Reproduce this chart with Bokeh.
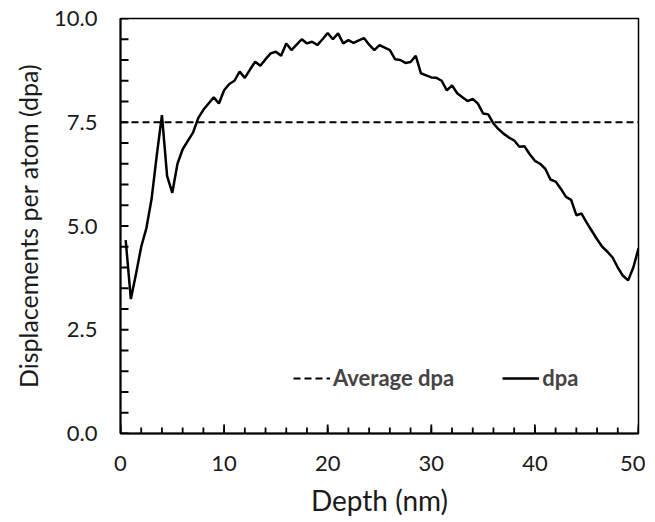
import numpy as np
from bokeh.plotting import figure
from bokeh.models import Legend, LegendItem, SingleIntervalTicker, Range1d, CustomJSTickFormatter
from bokeh.embed import file_html
from bokeh.resources import INLINE

depth = [0.5, 1.0, 1.5, 2.0, 2.5, 3.0, 3.5, 4.0, 4.5, 5.0, 5.5, 6.0, 6.5, 7.0, 7.5, 8.0, 8.5, 9.0, 9.5, 10.0,
         10.5, 11.0, 11.5, 12.0, 12.5, 13.0, 13.5, 14.0, 14.5, 15.0, 15.5, 16.0, 16.5, 17.0, 17.5, 18.0, 18.5, 19.0, 19.5, 20.0,
         20.5, 21.0, 21.5, 22.0, 22.5, 23.0, 23.5, 24.0, 24.5, 25.0, 25.5, 26.0, 26.5, 27.0, 27.5, 28.0, 28.5, 29.0, 29.5, 30.0,
         30.5, 31.0, 31.5, 32.0, 32.5, 33.0, 33.5, 34.0, 34.5, 35.0, 35.5, 36.0, 36.5, 37.0, 37.5, 38.0, 38.5, 39.0, 39.5, 40.0,
         40.5, 41.0, 41.5, 42.0, 42.5, 43.0, 43.5, 44.0, 44.5, 45.0, 45.5, 46.0, 46.5, 47.0, 47.5, 48.0, 48.5, 49.0, 49.5, 50.0]
dpa = [4.66, 3.24, 3.85, 4.5, 4.95, 5.65, 6.7, 7.67, 6.2, 5.8, 6.5, 6.85, 7.05, 7.25, 7.6, 7.8, 7.95, 8.1, 7.95, 8.27,
       8.42, 8.5, 8.72, 8.57, 8.77, 8.96, 8.86, 9.02, 9.16, 9.2, 9.1, 9.4, 9.24, 9.37, 9.5, 9.4, 9.44, 9.36, 9.5, 9.65,
       9.5, 9.64, 9.4, 9.48, 9.41, 9.47, 9.53, 9.37, 9.24, 9.36, 9.3, 9.24, 9.02, 9.0, 8.93, 8.95, 9.1, 8.68, 8.63, 8.58,
       8.57, 8.5, 8.27, 8.39, 8.2, 8.1, 8.01, 8.06, 7.95, 7.71, 7.69, 7.47, 7.33, 7.22, 7.13, 7.06, 6.91, 6.92, 6.73, 6.57,
       6.5, 6.38, 6.12, 6.07, 5.9, 5.7, 5.63, 5.26, 5.3, 5.08, 4.88, 4.68, 4.5, 4.38, 4.24, 4.0, 3.8, 3.69, 4.0, 4.46]
avg_x = [0, 50]
avg_y = [7.5, 7.5]

x_min, x_max, x_major, x_minor = 0, 50, 10, 2
y_min, y_max, y_major, y_minor = 0, 10, 2.5, 0.5

FONT = "Lato"
W, H = 645, 520
BL, BR, BT, BB = 120, 7, 18, 87
frame_w = W - BL - BR
frame_h = H - BT - BB

p = figure(width=W, height=H, output_backend="svg", toolbar_location=None,
           x_range=Range1d(x_min, x_max), y_range=Range1d(y_min, y_max),
           min_border_left=BL, min_border_right=BR, min_border_top=BT, min_border_bottom=BB)
p.xgrid.visible = False
p.ygrid.visible = False
p.outline_line_color = "black"
p.outline_line_width = 1.5
p.background_fill_color = "white"
p.border_fill_color = "white"

# inward tick marks (lengths given in pixels, converted to data units)
ux = (x_max - x_min) / frame_w
uy = (y_max - y_min) / frame_h
xt_minor = np.arange(x_min, x_max + 1e-9, x_minor)
xt_major = np.arange(x_min, x_max + 1e-9, x_major)
yt_minor = np.arange(y_min, y_max + 1e-9, y_minor)
p.segment(x0=xt_minor, y0=np.full(len(xt_minor), y_min), x1=xt_minor, y1=np.full(len(xt_minor), y_min + 6 * uy),
          line_color="black", line_width=1.8)
p.segment(x0=xt_major, y0=np.full(len(xt_major), y_min), x1=xt_major, y1=np.full(len(xt_major), y_min + 9 * uy),
          line_color="black", line_width=1.8)
p.segment(x0=np.full(len(yt_minor), x_min), y0=yt_minor, x1=np.full(len(yt_minor), x_min + 8 * ux), y1=yt_minor,
          line_color="black", line_width=1.8)

r_avg = p.line(avg_x, avg_y, line_color="black", line_width=2, line_dash="7 4")
r_dpa = p.line(depth, dpa, line_color="black", line_width=2.5)

p.xaxis.ticker = SingleIntervalTicker(interval=x_major, num_minor_ticks=5)
p.yaxis.ticker = SingleIntervalTicker(interval=y_major, num_minor_ticks=5)
p.yaxis.formatter = CustomJSTickFormatter(code="return tick.toFixed(1);")

for ax in (p.xaxis[0], p.yaxis[0]):
    ax.axis_line_width = 2
    ax.axis_line_color = "black"
    ax.major_tick_in = 0
    ax.major_tick_out = 0
    ax.minor_tick_in = 0
    ax.minor_tick_out = 0
    ax.major_tick_line_color = None
    ax.minor_tick_line_color = None
    ax.major_label_text_font = FONT
    ax.major_label_text_font_size = "22px"
    ax.major_label_text_color = "#1a1a1a"
    ax.axis_label_text_font = FONT
    ax.axis_label_text_font_style = "normal"
    ax.axis_label_text_color = "#1a1a1a"

p.xaxis.axis_label_text_font_size = "28px"
p.yaxis.axis_label_text_font_size = "25px"
p.xaxis.axis_label = "Depth (nm)"
p.yaxis.axis_label = "Displacements per atom (dpa)"
p.xaxis.major_label_standoff = 22
p.yaxis.major_label_standoff = 23
p.xaxis.axis_label_standoff = 9
p.yaxis.axis_label_standoff = 8

legend = Legend(items=[LegendItem(label="Average dpa", renderers=[r_avg]),
                       LegendItem(label="dpa", renderers=[r_dpa])],
                orientation="horizontal", location=(173, 42),
                border_line_color=None, background_fill_alpha=0,
                label_text_font=FONT, label_text_font_size="22px",
                label_text_font_style="bold", glyph_width=37, spacing=48,
                label_standoff=3, padding=0, margin=0)
p.add_layout(legend, "center")

open("out.html", "w").write(file_html(p, INLINE))
